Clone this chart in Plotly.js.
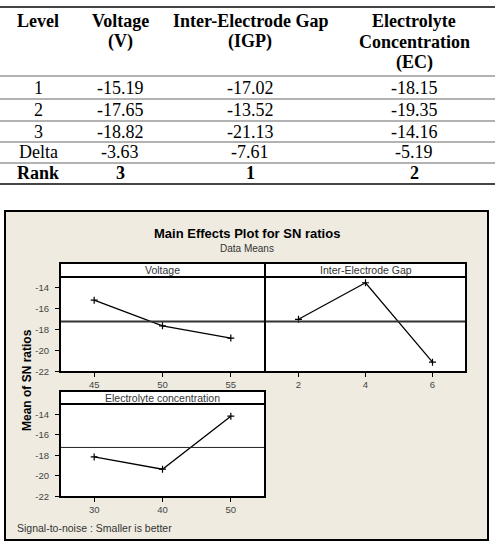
<!DOCTYPE html>
<html>
<head>
<meta charset="utf-8">
<script src="https://cdn.plot.ly/plotly-3.0.1.min.js"></script>
<style>
  html, body { margin: 0; padding: 0; background: #ffffff; }
  #chart { width: 498px; height: 544px; }
</style>
</head>
<body>
<div id="chart"></div>
<script>
// Response table for S/N ratios (smaller is better)
const tableHeaders = ['Level', 'Voltage<br>(V)', 'Inter-Electrode Gap<br>(IGP)', 'Electrolyte<br>Concentration<br>(EC)'];
const rowLabels = ['1', '2', '3', 'Delta', 'Rank'];
const voltageMeans = [-15.19, -17.65, -18.82];
const igpMeans = [-17.02, -13.52, -21.13];
const ecMeans = [-18.15, -19.35, -14.16];
const deltas = [-3.63, -7.61, -5.19];
const ranks = [3, 1, 2];

// Factor levels and panel labels for the main effects plot
const factorNames = ['Voltage', 'Inter-Electrode Gap', 'Electrolyte concentration'];
const voltageLevels = [45, 50, 55];
const igpLevels = [2, 4, 6];
const ecLevels = [30, 40, 50];
const yTickVals = [-14, -16, -18, -20, -22];
const yTickText = ['-14', '-16', '-18', '-20', '-22'];

const chartTitle = 'Main Effects Plot for SN ratios';
const chartSubtitle = 'Data Means';
const yTitle = 'Mean of SN ratios';
const footerText = 'Signal-to-noise : Smaller is better';

const W = 498, H = 544;
const px = x => x / W;
const py = y => 1 - y / H;

const mean = a => a.reduce((s, v) => s + v, 0) / a.length;
const grandMean = mean(voltageMeans.concat(igpMeans, ecMeans));
const padRange = lv => {
  const lo = Math.min(...lv), hi = Math.max(...lv), p = 0.25 * (hi - lo);
  return [lo - p, hi + p];
};

const serif = 'Liberation Serif, Times New Roman, serif';
const sans = 'Liberation Sans, Arial, sans-serif';
const fmt = v => v.toFixed(2);
const tableFont = { family: serif, size: 18, color: '#000' };

// ---------- table ----------
const colX = [38, 120, 250, 414];
const ruleY = [76, 99, 121, 142, 163];
const annotations = [];
const shapes = [];

// header lines are placed one by one to keep the tight line spacing
tableHeaders.forEach((h, i) => {
  h.split('<br>').forEach((line, k) => {
    annotations.push({
      xref: 'paper', yref: 'paper', x: px(colX[i]), y: py(21 + 20.7 * k),
      xanchor: 'center', yanchor: 'middle', showarrow: false,
      text: '<b>' + line + '</b>', font: tableFont
    });
  });
});

const columns = [voltageMeans, igpMeans, ecMeans];
rowLabels.forEach((lab, r) => {
  const yc = r < 4 ? (ruleY[r] + ruleY[r + 1]) / 2 : 173.5;
  const bold = lab === 'Rank';
  const cells = [lab];
  for (let c = 0; c < 3; c++) {
    if (r < 3) cells.push(fmt(columns[c][r]));
    else if (r === 3) cells.push(fmt(deltas[c]));
    else cells.push(String(ranks[c]));
  }
  cells.forEach((t, c) => {
    annotations.push({
      xref: 'paper', yref: 'paper', x: px(colX[c]), y: py(yc),
      xanchor: 'center', yanchor: 'middle', showarrow: false,
      text: bold ? '<b>' + t + '</b>' : t, font: tableFont
    });
  });
});

const hRule = (y, w, c) => ({
  type: 'line', xref: 'paper', yref: 'paper',
  x0: 0, x1: px(495), y0: py(y), y1: py(y),
  line: { color: c, width: w }
});
shapes.push(hRule(7, 2, '#444'));
ruleY.forEach(y => shapes.push(hRule(y, 1, '#666')));
shapes.push(hRule(184, 2, '#444'));

// ---------- main effects plot frame ----------
shapes.push({
  type: 'rect', xref: 'paper', yref: 'paper', layer: 'below',
  x0: px(5), x1: px(488), y0: py(540), y1: py(211),
  fillcolor: '#efebe1', line: { color: '#000', width: 2 }
});
const subplots = ['', '2', '3'];
subplots.forEach(s => {
  shapes.push({
    type: 'rect', xref: 'x' + s + ' domain', yref: 'y' + s + ' domain', layer: 'below',
    x0: 0, x1: 1, y0: 0, y1: 1, fillcolor: '#ffffff', line: { width: 0 }
  });
});

// grand-mean reference lines
subplots.forEach(s => {
  shapes.push({
    type: 'line', xref: 'x' + s + ' domain', yref: 'y' + s,
    x0: 0, x1: 1, y0: grandMean, y1: grandMean,
    line: { color: s === '3' ? '#222' : '#333', width: s === '3' ? 1 : 2 }
  });
});

// panel borders
subplots.forEach(s => {
  shapes.push({
    type: 'rect', xref: 'x' + s + ' domain', yref: 'y' + s + ' domain', layer: 'above',
    x0: 0, x1: 1, y0: 0, y1: 1, fillcolor: 'rgba(0,0,0,0)', line: { color: '#000', width: 2 }
  });
});

// strips above each panel
const strips = [
  { x0: 60, x1: 265, y0: 263, y1: 277 },
  { x0: 265, x1: 466, y0: 263, y1: 277 },
  { x0: 60, x1: 265, y0: 391, y1: 404 }
];
strips.forEach((s, i) => {
  shapes.push({
    type: 'rect', xref: 'paper', yref: 'paper',
    x0: px(s.x0), x1: px(s.x1), y0: py(s.y1), y1: py(s.y0),
    fillcolor: '#ffffff', line: { color: '#000', width: 2 }
  });
  annotations.push({
    xref: 'paper', yref: 'paper', x: px((s.x0 + s.x1) / 2), y: py((s.y0 + s.y1) / 2),
    xanchor: 'center', yanchor: 'middle', showarrow: false,
    text: factorNames[i], font: { family: sans, size: 10.5, color: '#333' }
  });
});

annotations.push(
  { xref: 'paper', yref: 'paper', x: px(247), y: py(233.5), xanchor: 'center', yanchor: 'middle',
    showarrow: false, text: '<b>' + chartTitle + '</b>', font: { family: sans, size: 13, color: '#000' } },
  { xref: 'paper', yref: 'paper', x: px(247), y: py(248.5), xanchor: 'center', yanchor: 'middle',
    showarrow: false, text: chartSubtitle, font: { family: sans, size: 10, color: '#333' } },
  { xref: 'paper', yref: 'paper', x: px(27), y: py(380), xanchor: 'center', yanchor: 'middle',
    showarrow: false, textangle: -90, text: '<b>' + yTitle + '</b>', font: { family: sans, size: 12, color: '#000' } },
  { xref: 'paper', yref: 'paper', x: px(15), y: py(528), xanchor: 'left', yanchor: 'middle',
    showarrow: false, text: footerText, font: { family: sans, size: 10.5, color: '#333' } }
);

// ---------- traces ----------
const lineStyle = { color: '#000', width: 1.3 };
const markerStyle = { symbol: 'cross-thin', size: 5, color: '#000', line: { color: '#000', width: 1.2 } };
const traces = [
  { x: voltageLevels, y: voltageMeans, xaxis: 'x', yaxis: 'y' },
  { x: igpLevels, y: igpMeans, xaxis: 'x2', yaxis: 'y2' },
  { x: ecLevels, y: ecMeans, xaxis: 'x3', yaxis: 'y3' }
].map(t => Object.assign(t, {
  type: 'scatter', mode: 'lines+markers', line: lineStyle, marker: markerStyle,
  showlegend: false, hoverinfo: 'skip'
}));

const tickFont = { family: sans, size: 9.5, color: '#444' };
const yRange = [-22.07, -12.97];
const xBase = levels => ({
  range: padRange(levels), tickvals: levels, ticktext: levels.map(String),
  ticks: 'outside', ticklen: 4, tickwidth: 1, tickcolor: '#000',
  showline: false, showgrid: false, zeroline: false, tickfont: tickFont, ticklabelstandoff: 0
});
const yBase = (show) => ({
  range: yRange, tickvals: yTickVals, ticktext: yTickText,
  ticks: show ? 'outside' : '', ticklen: 4, tickwidth: 1, tickcolor: '#000',
  showticklabels: show, showline: false,
  showgrid: false, zeroline: false, tickfont: tickFont, ticklabelstandoff: 4
});

const topDom = [py(372), py(277)];
const botDom = [py(497), py(404)];

const layout = {
  width: W, height: H,
  margin: { l: 0, r: 0, t: 0, b: 0 },
  paper_bgcolor: '#ffffff', plot_bgcolor: '#ffffff',
  showlegend: false,
  xaxis: Object.assign(xBase(voltageLevels), { domain: [px(60), px(265)], anchor: 'y' }),
  yaxis: Object.assign(yBase(true), { domain: topDom, anchor: 'x' }),
  xaxis2: Object.assign(xBase(igpLevels), { domain: [px(265), px(466)], anchor: 'y2' }),
  yaxis2: Object.assign(yBase(false), { domain: topDom, anchor: 'x2' }),
  xaxis3: Object.assign(xBase(ecLevels), { domain: [px(60), px(265)], anchor: 'y3' }),
  yaxis3: Object.assign(yBase(true), { domain: botDom, anchor: 'x3' }),
  shapes: shapes,
  annotations: annotations
};

Plotly.newPlot('chart', traces, layout, { displayModeBar: false, staticPlot: true });
</script>
</body>
</html>
